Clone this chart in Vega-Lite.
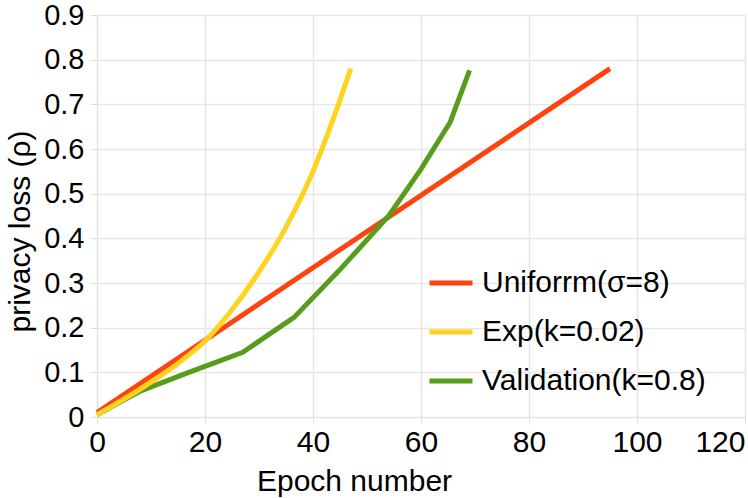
{
  "$schema": "https://vega.github.io/schema/vega-lite/v6.json",
  "width": 648,
  "height": 402,
  "autosize": "none",
  "padding": {"left": 97, "top": 15, "right": 3, "bottom": 81},
  "background": "white",
  "config": {
    "font": "Liberation Sans",
    "view": {"stroke": null}
  },
  "data": {
    "values": [
      {"epoch": 0, "loss": 0.01, "series": "Uniforrm(σ=8)"},
      {"epoch": 95, "loss": 0.78, "series": "Uniforrm(σ=8)"},
      {"epoch": 0, "loss": 0.005, "series": "Exp(k=0.02)"},
      {"epoch": 5, "loss": 0.04, "series": "Exp(k=0.02)"},
      {"epoch": 10, "loss": 0.078, "series": "Exp(k=0.02)"},
      {"epoch": 15, "loss": 0.12, "series": "Exp(k=0.02)"},
      {"epoch": 20, "loss": 0.17, "series": "Exp(k=0.02)"},
      {"epoch": 25, "loss": 0.24, "series": "Exp(k=0.02)"},
      {"epoch": 30, "loss": 0.325, "series": "Exp(k=0.02)"},
      {"epoch": 35, "loss": 0.425, "series": "Exp(k=0.02)"},
      {"epoch": 40, "loss": 0.55, "series": "Exp(k=0.02)"},
      {"epoch": 45, "loss": 0.71, "series": "Exp(k=0.02)"},
      {"epoch": 47, "loss": 0.78, "series": "Exp(k=0.02)"},
      {"epoch": 0, "loss": 0.005, "series": "Validation(k=0.8)"},
      {"epoch": 8, "loss": 0.058, "series": "Validation(k=0.8)"},
      {"epoch": 17, "loss": 0.1, "series": "Validation(k=0.8)"},
      {"epoch": 27, "loss": 0.145, "series": "Validation(k=0.8)"},
      {"epoch": 36.5, "loss": 0.223, "series": "Validation(k=0.8)"},
      {"epoch": 45, "loss": 0.33, "series": "Validation(k=0.8)"},
      {"epoch": 54, "loss": 0.45, "series": "Validation(k=0.8)"},
      {"epoch": 60, "loss": 0.555, "series": "Validation(k=0.8)"},
      {"epoch": 65.4, "loss": 0.66, "series": "Validation(k=0.8)"},
      {"epoch": 69, "loss": 0.776, "series": "Validation(k=0.8)"}
    ]
  },
  "encoding": {
    "x": {
      "field": "epoch",
      "type": "quantitative",
      "scale": {"domain": [0, 120], "nice": false},
      "axis": {
        "values": [0, 20, 40, 60, 80, 100, 120],
        "title": "Epoch number",
        "titleFontSize": 30,
        "titleFontWeight": "normal",
        "titleColor": "#000000",
        "titleX": 257,
        "titleY": 73,
        "titleBaseline": "alphabetic",
        "labelFontSize": 30,
        "labelColor": "#000000",
        "labelPadding": 3,
        "labelFlush": false,
        "labelAlign": {"condition": {"test": "datum.value == 120", "value": "right"}, "value": "center"},
        "domainColor": "#e0e0e0",
        "tickColor": "#e0e0e0",
        "tickSize": 7,
        "gridColor": "#e6e6e6",
        "gridWidth": 1.5
      }
    },
    "y": {
      "field": "loss",
      "type": "quantitative",
      "scale": {"domain": [0, 0.9], "nice": false},
      "axis": {
        "values": [0, 0.1, 0.2, 0.3, 0.4, 0.5, 0.6, 0.7, 0.8, 0.9],
        "labelExpr": "datum.value == 0 ? '0' : format(datum.value, '.1f')",
        "title": "privacy loss (ρ)",
        "titleFontSize": 30,
        "titleFontWeight": "normal",
        "titleColor": "#000000",
        "titleX": -68,
        "titleY": 216,
        "titleAlign": "center",
        "titleBaseline": "alphabetic",
        "labelFontSize": 29,
        "labelColor": "#000000",
        "labelPadding": 6,
        "labelFlush": false,
        "domainColor": "#e0e0e0",
        "tickColor": "#e0e0e0",
        "tickSize": 7,
        "gridColor": "#e6e6e6",
        "gridWidth": 1.5
      }
    },
    "color": {
      "field": "series",
      "type": "nominal",
      "scale": {
        "domain": ["Uniforrm(σ=8)", "Exp(k=0.02)", "Validation(k=0.8)"],
        "range": ["#ff420e", "#ffd320", "#579d1c"]
      },
      "legend": {
        "title": null,
        "orient": "none",
        "legendX": 330,
        "legendY": 244,
        "symbolType": "stroke",
        "symbolSize": 1849,
        "symbolStrokeWidth": 5,
        "labelFontSize": 30,
        "labelColor": "#000000",
        "labelOffset": 7,
        "rowPadding": 10,
        "labelLimit": 400
      }
    }
  },
  "layer": [
    {
      "transform": [{"filter": "datum.series != 'Exp(k=0.02)'"}],
      "mark": {"type": "line", "strokeWidth": 5, "strokeJoin": "miter", "strokeCap": "butt"}
    },
    {
      "transform": [{"filter": "datum.series == 'Exp(k=0.02)'"}],
      "mark": {"type": "line", "strokeWidth": 5, "strokeCap": "butt", "interpolate": "monotone"}
    }
  ]
}
